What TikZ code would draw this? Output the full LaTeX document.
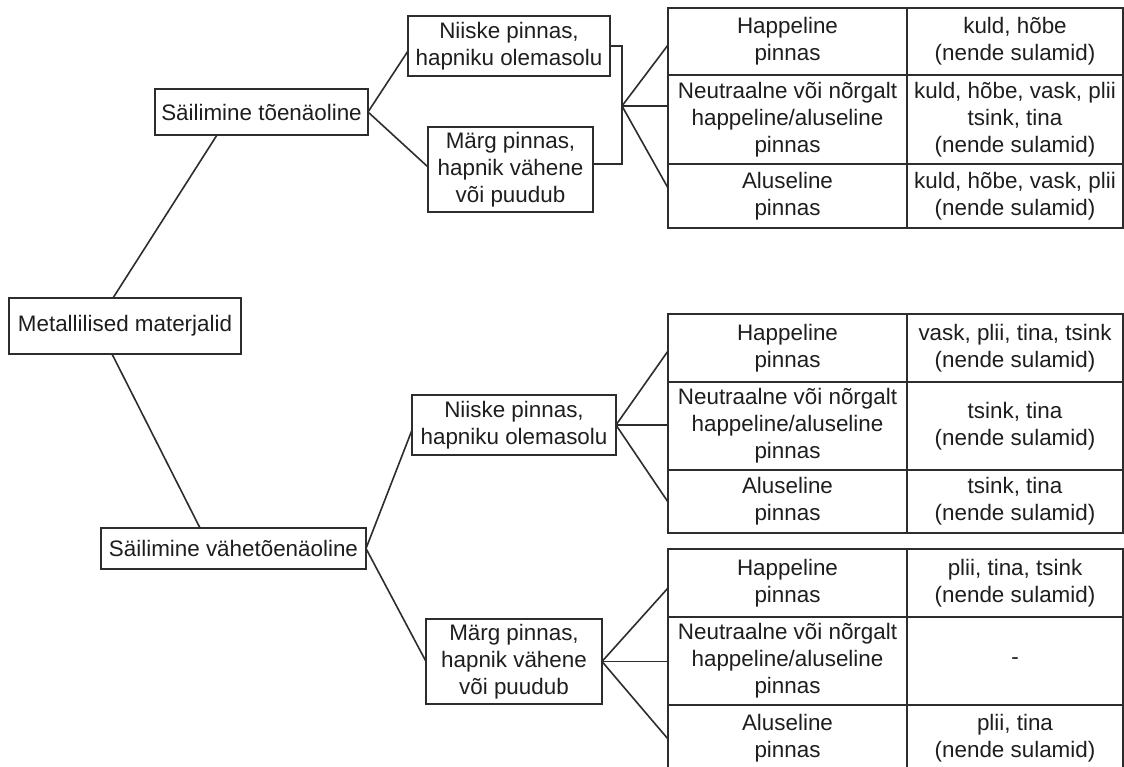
\documentclass[tikz,border=0pt]{standalone}
\usepackage{fontspec}
\setmainfont{Liberation Sans}
\definecolor{ln}{RGB}{45,45,45}
\definecolor{tx}{RGB}{30,30,30}
\newcommand\fs{\fontsize{22.4}{26.8}\selectfont}
\newcommand\bx[6]{\node[box, minimum width={(#4-#2)*1pt}, minimum height={(#5-#3)*1pt}] (#1) at ({(#2+#4)/2},{(#3+#5)/2}) {#6};}
\begin{document}
\begin{tikzpicture}[x=1pt,y=-1pt,line width=1.6pt,
  box/.style={draw=ln, text=tx, inner sep=0pt, outer sep=0pt, align=center, font=\fs},
  conn/.style={draw=ln, line width=1.6pt}]
\useasboundingbox (0,0) rectangle (1124,767);
\clip (0,0) rectangle (1124,767);
\fill[white] (0,0) rectangle (1124,767);
% tree boxes
\bx{M}{9}{298}{241}{354}{Metallilised materjalid}
\bx{T1}{155}{89}{368}{135}{Säilimine tõenäoline}
\bx{T2}{101}{528}{366}{569}{Säilimine vähetõenäoline}
\bx{N1}{408}{16}{610}{76}{Niiske pinnas,\\hapniku olemasolu}
\bx{G1}{428}{127}{593}{212}{Märg pinnas,\\hapnik vähene\\või puudub}
\bx{N2}{412}{395}{616}{455}{Niiske pinnas,\\hapniku olemasolu}
\bx{G2}{426}{619}{602}{704}{Märg pinnas,\\hapnik vähene\\või puudub}
% top table
\bx{a11}{668}{8}{907}{75}{Happeline\\pinnas}
\bx{a12}{907}{8}{1123}{75}{kuld, hõbe\\(nende sulamid)}
\bx{a21}{668}{75}{907}{164}{Neutraalne või nõrgalt\\happeline/aluseline\\pinnas}
\bx{a22}{907}{75}{1123}{164}{kuld, hõbe, vask, plii\\tsink, tina\\(nende sulamid)}
\bx{a31}{668}{164}{907}{228}{Aluseline\\pinnas}
\bx{a32}{907}{164}{1123}{228}{kuld, hõbe, vask, plii\\(nende sulamid)}
% middle table
\bx{b11}{668}{314}{907}{382}{Happeline\\pinnas}
\bx{b12}{907}{314}{1123}{382}{vask, plii, tina, tsink\\(nende sulamid)}
\bx{b21}{668}{382}{907}{470}{Neutraalne või nõrgalt\\happeline/aluseline\\pinnas}
\bx{b22}{907}{382}{1123}{470}{tsink, tina\\(nende sulamid)}
\bx{b31}{668}{470}{907}{533}{Aluseline\\pinnas}
\bx{b32}{907}{470}{1123}{533}{tsink, tina\\(nende sulamid)}
% bottom table
\bx{c11}{668}{549}{907}{617}{Happeline\\pinnas}
\bx{c12}{907}{549}{1123}{617}{plii, tina, tsink\\(nende sulamid)}
\bx{c21}{668}{617}{907}{705}{Neutraalne või nõrgalt\\happeline/aluseline\\pinnas}
\bx{c22}{907}{617}{1123}{705}{-}
\bx{c31}{668}{705}{907}{772}{Aluseline\\pinnas}
\bx{c32}{907}{705}{1123}{772}{plii, tina\\(nende sulamid)}
% connectors
\draw[conn] ([xshift=-12pt]M.north) -- ([xshift=-44.5pt]T1.south);
\draw[conn] ([xshift=-13pt]M.south) -- ([xshift=-33.5pt]T2.north);
\draw[conn] (T1.east) -- ([yshift=-5pt]N1.west);
\draw[conn] (T1.east) -- ([yshift=2.5pt]G1.west);
\draw[conn] (T2.east) -- ([yshift=-5pt]N2.west);
\draw[conn] (T2.east) -- (G2.west);
\coordinate (J1) at (622,106);
\draw[conn] (N1.east) -| (J1) |- ([yshift=5.5pt]G1.east);
\coordinate (a1in) at (668,45);
\coordinate (a2in) at (668,106);
\coordinate (a3in) at (668,188);
\draw[conn] (a1in) -- (J1) -- (a3in);
\draw[conn] (J1) -- (a2in);
\coordinate (b1in) at (668,351);
\coordinate (b2in) at (668,425);
\coordinate (b3in) at (668,502);
\draw[conn] (b1in) -- (N2.east) -- (b3in);
\draw[conn] (N2.east) -- (b2in);
\coordinate (c1in) at (668,588);
\coordinate (c2in) at (668,661.5);
\coordinate (c3in) at (668,739);
\draw[conn] (c1in) -- (G2.east) -- (c3in);
\draw[conn] (G2.east) -- (c2in);
\end{tikzpicture}
\end{document}
